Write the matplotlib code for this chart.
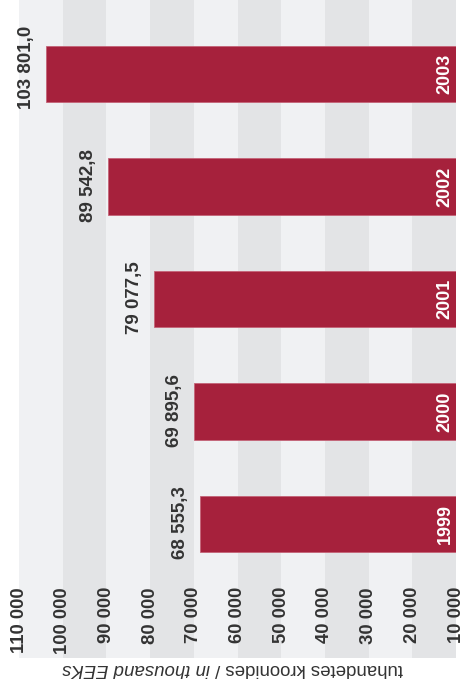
import matplotlib
matplotlib.use("Agg")
import matplotlib.pyplot as plt
from matplotlib.transforms import blended_transform_factory

years = ["2003", "2002", "2001", "2000", "1999"]
values = [103801.0, 89542.8, 79077.5, 69895.6, 68555.3]
value_labels = ["103 801,0", "89 542,8", "79 077,5", "69 895,6", "68 555,3"]
ticks = [10000, 20000, 30000, 40000, 50000, 60000, 70000, 80000, 90000, 100000, 110000]
tick_labels = ["10 000", "20 000", "30 000", "40 000", "50 000", "60 000",
               "70 000", "80 000", "90 000", "100 000", "110 000"]
axis_label_main = "tuhandetes kroonides / "
axis_label_en = "in thousand EEKs"

plt.rcParams['font.family'] = ['Liberation Sans', 'DejaVu Sans']

W, H = 463, 688
fig = plt.figure(figsize=(W / 100, H / 100), dpi=100)
fig.patch.set_facecolor("white")
ax = fig.add_axes([19 / W, (H - 658) / H, (456 - 19) / W, 658 / H])
ax.set_xlim(110000, 10000)
ax.set_ylim(5.19, -0.658)
ax.set_facecolor("#f0f1f3")
for s in ax.spines.values():
    s.set_visible(False)
ax.set_xticks([])
ax.set_yticks([])

# alternating bands
for k in range(len(ticks) - 1):
    if k % 2 == 0:
        ax.axvspan(ticks[k], ticks[k + 1], color="#e3e4e6", lw=0, zorder=0)

pos = list(range(len(years)))
ax.barh(pos, [v - ticks[0] for v in values], left=ticks[0], height=0.5,
        color="#a6213c", edgecolor="#c46477", linewidth=0.6, zorder=2)

for i, (y, v, lab) in enumerate(zip(years, values, value_labels)):
    ax.annotate(lab, xy=(v, i + 0.25), xytext=(-8, -5), textcoords="offset points",
                rotation=90, ha="right", va="bottom", fontsize=13.5,
                fontweight="bold", color="#333333", zorder=3)
    ax.annotate(y, xy=(ticks[0], i), xytext=(-8, 0), textcoords="offset points",
                rotation=90, ha="center", va="center", fontsize=13,
                fontweight="bold", color="white", zorder=3)

tr = blended_transform_factory(ax.transData, ax.transAxes)
for t, tl in zip(ticks, tick_labels):
    ax.text(t, (658 - 587) / 658, tl, transform=tr, rotation=90, ha="center",
            va="top", fontsize=13.3, fontweight="bold", color="#333333")

t1 = fig.text(403 / W, 1 - 668 / H, axis_label_main, rotation=180, ha="right",
              va="center", fontsize=13.4, color="#333333")
ax.annotate(axis_label_en, xy=(0, 0.5), xycoords=t1, rotation=180, ha="right",
            va="center", fontsize=13.4, color="#333333", style="italic",
            annotation_clip=False)

fig.savefig("out.png", dpi=100)
